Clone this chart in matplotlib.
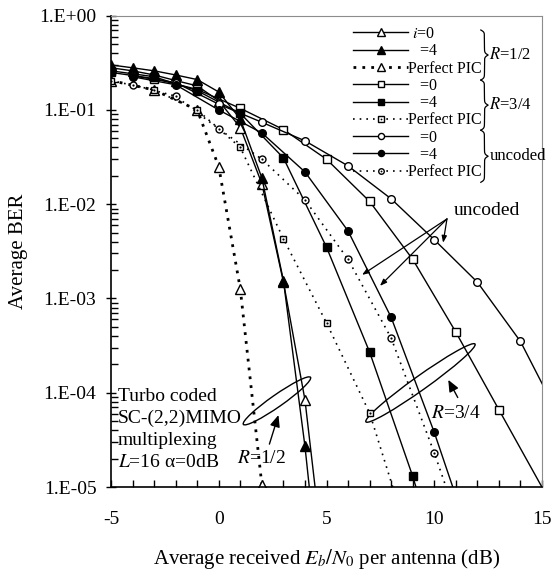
import numpy as np
import matplotlib.pyplot as plt
from matplotlib.patches import Ellipse
from matplotlib.transforms import ScaledTranslation
from matplotlib.ticker import MultipleLocator, FixedLocator, FuncFormatter, LogLocator, NullFormatter

plt.rcParams['font.family'] = ['Liberation Serif', 'DejaVu Serif']
plt.rcParams['mathtext.fontset'] = 'stix'
plt.rcParams['axes.unicode_minus'] = False

# R=1/2 turbo coded
snr_r12 = [-5, -4, -3, -2, -1, 0, 1, 2, 3, 4, 5]
ber_r12_i0 = [0.28, 0.26, 0.235, 0.205, 0.18, 0.125, 0.065, 0.0165, 1.5e-3, 8.4e-5, 9e-7]
ber_r12_i4 = [0.30, 0.28, 0.26, 0.235, 0.21, 0.155, 0.08, 0.019, 1.55e-3, 2.7e-5, 1.9e-7]
snr_r12_pp = [-5, -3, -1, 0, 1, 2]
ber_r12_pp = [0.205, 0.163, 0.10, 0.025, 1.26e-3, 1.05e-5]

# R=3/4 turbo coded
snr_r34_i0 = [-5, -3, -1, 1, 3, 5, 7, 9, 11, 13, 17]
ber_r34_i0 = [0.25, 0.215, 0.165, 0.104, 0.062, 0.030, 0.0107, 0.0026, 4.4e-4, 6.6e-5, 1.5e-6]
snr_r34_i4 = [-5, -3, -1, 1, 3, 5, 7, 9, 11]
ber_r34_i4 = [0.26, 0.225, 0.16, 0.092, 0.031, 0.0035, 2.7e-4, 1.3e-5, 3.9e-7]
snr_r34_pp = [-5, -3, -1, 1, 3, 5, 7, 9]
ber_r34_pp = [0.205, 0.163, 0.10, 0.040, 4.3e-3, 5.5e-4, 6.1e-5, 2.1e-6]

# uncoded
snr_unc_i0 = [-4, -2, 0, 2, 4, 6, 8, 10, 12, 14, 16]
ber_unc_i0 = [0.23, 0.195, 0.115, 0.074, 0.047, 0.0255, 0.0114, 0.0042, 1.49e-3, 3.5e-4, 4.5e-5]
snr_unc_i4 = [-4, -2, 0, 2, 4, 6, 8, 10, 12]
ber_unc_i4 = [0.225, 0.185, 0.10, 0.057, 0.022, 0.0052, 6.3e-4, 3.8e-5, 1.7e-6]
snr_unc_pp = [-4, -2, 0, 2, 4, 6, 8, 10, 12]
ber_unc_pp = [0.185, 0.14, 0.063, 0.030, 0.0111, 0.0026, 3.8e-4, 2.3e-5, 1.1e-6]

leg_labels = [" $i$=0", "   =4", "Perfect PIC",
              "   =0", "   =4", "Perfect PIC",
              "   =0", "   =4", "Perfect PIC"]
group_labels = ["$R$=1/2", "$R$=3/4", "uncoded"]

fig = plt.figure(figsize=(5.52, 5.72), dpi=100)
ax = fig.add_axes([0.2011, 0.1486, 0.7808, 0.824])

k = 'black'
solid = dict(color=k, lw=1.0, mew=1.0)
dot_small = dict(color=k, ls='none', marker='o', ms=1.6, mew=0)

h = []
h.append(ax.plot(snr_r12, ber_r12_i0, marker='^', ms=6.5, mfc='white', **solid)[0])
h.append(ax.plot(snr_r12, ber_r12_i4, marker='^', ms=6.5, mfc=k, **solid)[0])
h.append(ax.plot(snr_r12_pp, ber_r12_pp, marker='^', ms=6.5, mfc='white', color=k,
                 lw=2.0, ls=(0, (1, 2.2)), mew=1.0)[0])

h.append(ax.plot(snr_r34_i0, ber_r34_i0, marker='s', ms=5.5, mfc='white', **solid)[0])
h.append(ax.plot(snr_r34_i4, ber_r34_i4, marker='s', ms=5.5, mfc=k, **solid)[0])
pp34 = ax.plot(snr_r34_pp, ber_r34_pp, marker='s', ms=5, mfc='white', color=k,
               lw=1.2, ls=(0, (1, 3)), mew=1.0)[0]
pp34d = ax.plot(snr_r34_pp, ber_r34_pp, **dot_small)[0]
h.append((pp34, pp34d))

h.append(ax.plot(snr_unc_i0, ber_unc_i0, marker='o', ms=5.5, mfc='white', **solid)[0])
h.append(ax.plot(snr_unc_i4, ber_unc_i4, marker='o', ms=5.5, mfc=k, **solid)[0])
ppu = ax.plot(snr_unc_pp, ber_unc_pp, marker='o', ms=5, mfc='white', color=k,
              lw=1.2, ls=(0, (1, 3)), mew=1.0)[0]
ppud = ax.plot(snr_unc_pp, ber_unc_pp, **dot_small)[0]
h.append((ppu, ppud))

ax.set_xlim(-5, 15)
ax.set_yscale('log')
ax.set_ylim(1e-5, 1)

ax.xaxis.set_major_locator(FixedLocator([-5, 0, 5, 10, 15]))
ax.xaxis.set_minor_locator(MultipleLocator(1))
ax.yaxis.set_major_locator(LogLocator(base=10, numticks=10))
ax.yaxis.set_minor_locator(LogLocator(base=10, subs=np.arange(2, 10), numticks=20))
ax.yaxis.set_minor_formatter(NullFormatter())
ax.yaxis.set_major_formatter(FuncFormatter(lambda v, p: "1.E%+03d" % int(round(np.log10(v)))))

ax.tick_params(axis='x', which='both', direction='in', length=5, width=1, labelsize=14, pad=17)
ax.tick_params(axis='y', which='major', direction='inout', length=7, width=1, labelsize=14, pad=7)
ax.tick_params(axis='y', which='minor', direction='in', length=5, width=1)
for s in ['top', 'right']:
    ax.spines[s].set_color('#8c8c8c')
for s in ['left', 'bottom']:
    ax.spines[s].set_linewidth(1.2)

ax.set_xlabel("Average received $E_b/N_0$ per antenna (dB)", fontsize=15, labelpad=14)
ax.set_ylabel("Average BER", fontsize=15, labelpad=8)

leg = ax.legend(h, leg_labels, loc='upper left', bbox_to_anchor=(0.5615, 0.978),
                frameon=False, fontsize=11.5, handlelength=3.45, handletextpad=0.0,
                labelspacing=0.08, borderpad=0, borderaxespad=0, numpoints=1,
                markerscale=0.8)


def brace(ax, x, y0, y1, w, beta=450):
    # curly brace pointing right, in axes fraction units
    L = y1 - y0
    t = np.linspace(0, L / 2, 200)
    xs = 1 / (1 + np.exp(-beta * t)) + 1 / (1 + np.exp(-beta * (t - L / 2))) - 0.5
    xx = np.concatenate([xs, xs[-2::-1]])
    yy = np.concatenate([t, L - t[-2::-1]])
    ax.plot(x + w * xx, y0 + yy, color=k, lw=0.9, transform=ax.transAxes, clip_on=False)


brace_spans = [(0.8634, 0.9696), (0.757, 0.8634), (0.6465, 0.757)]
for (b0, b1), lab in zip(brace_spans, group_labels):
    brace(ax, 0.858, b0, b1, 0.017)
    ax.text(0.878, (b0 + b1) / 2, lab, transform=ax.transAxes, fontsize=12,
            ha='left', va='center')

# ellipses (centre in data, size in inches)
for cx, cy, w, hgt, ang in [(2.70, 8.2e-5, 0.82, 0.12, 35), (9.36, 1.27e-4, 1.34, 0.14, 35.5)]:
    tr = fig.dpi_scale_trans + ScaledTranslation(cx, cy, ax.transData)
    ax.add_patch(Ellipse((0, 0), w, hgt, angle=ang, fill=False, lw=1.0, color=k, transform=tr))

big_arrow = dict(arrowstyle='-|>,head_length=0.7,head_width=0.3', color=k, lw=1.0, shrinkA=0, shrinkB=0)
ax.annotate("", xy=(2.77, 5.8e-5), xytext=(2.35, 2.85e-5), arrowprops=big_arrow)
ax.text(1.99, 2.0e-5, "$R$=1/2", fontsize=14, ha='center', va='center')
ax.annotate("", xy=(10.65, 1.37e-4), xytext=(11.09, 8.9e-5), arrowprops=big_arrow)
ax.text(9.85, 6.0e-5, "$R$=3/4", fontsize=14, ha='left', va='center')

small_arrow = dict(arrowstyle='-|>,head_length=0.4,head_width=0.15', color=k, lw=0.9, shrinkA=0, shrinkB=0)
for hx, hy in [(6.65, 1.78e-3), (7.48, 1.36e-3), (10.41, 3.9e-3)]:
    ax.annotate("", xy=(hx, hy), xytext=(10.59, 6.98e-3), arrowprops=small_arrow)
ax.text(12.45, 8.5e-3, "uncoded", fontsize=14, ha='center', va='center')

ax.text(-4.68, 4.1e-5, "Turbo coded\nSC-(2,2)MIMO\nmultiplexing\n$L$=16 \u03b1=0dB",
        fontsize=14, ha='left', va='center', linespacing=1.38)

fig.savefig('out.png', dpi=100)
